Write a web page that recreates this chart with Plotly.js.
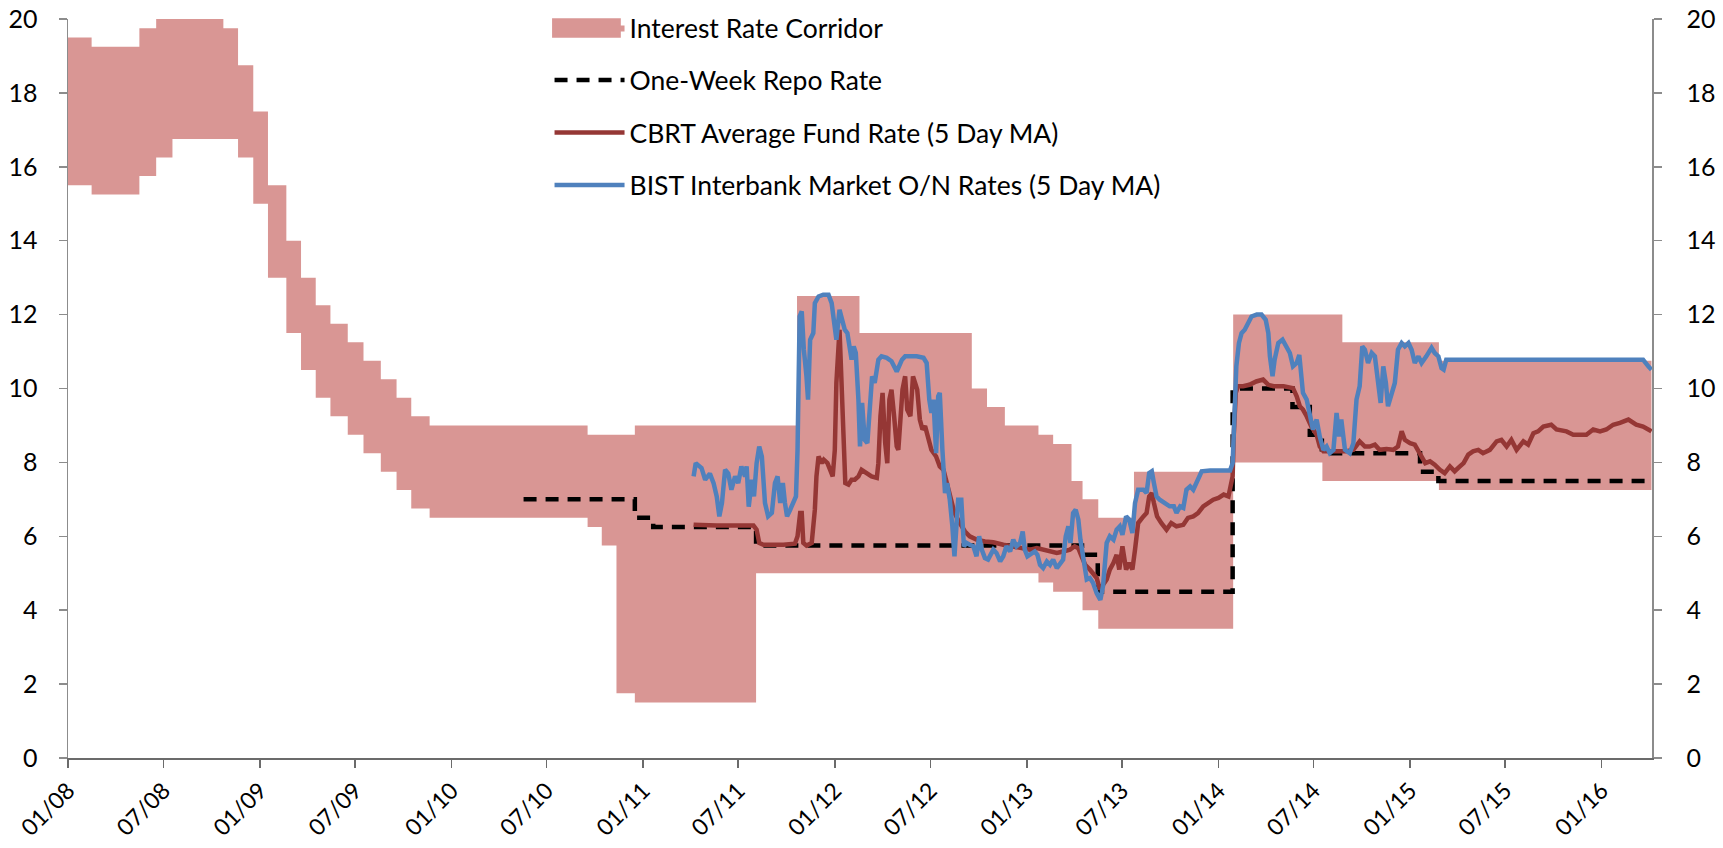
<!DOCTYPE html>
<html>
<head>
<meta charset="utf-8">
<script src="https://cdn.plot.ly/plotly-3.0.1.min.js"></script>
<style>html,body{margin:0;padding:0;background:#fff;}#chart{width:1723px;height:848px;}</style>
</head>
<body>
<div id="chart"></div>
<script>
// Interest rate corridor (step starts)
const corridorDates = ["2008-01-01","2008-02-15","2008-05-16","2008-06-17","2008-07-18","2008-10-23","2008-11-20","2008-12-19","2009-01-16","2009-02-20","2009-03-20","2009-04-17","2009-05-15","2009-06-17","2009-07-17","2009-08-19","2009-09-18","2009-10-16","2009-11-20","2010-09-17","2010-10-14","2010-11-11","2010-12-16","2011-08-04","2011-10-21","2012-02-17","2012-09-18","2012-10-17","2012-11-20","2013-01-23","2013-02-20","2013-03-27","2013-04-17","2013-05-17","2013-07-24","2014-01-29","2014-07-18","2014-08-25","2015-02-25","2016-04-05"];
const corridorLower = [15.5,15.25,15.75,16.25,16.75,16.75,16.25,15.0,13.0,11.5,10.5,9.75,9.25,8.75,8.25,7.75,7.25,6.75,6.5,6.25,5.75,1.75,1.5,5.0,5.0,5.0,5.0,5.0,5.0,4.75,4.5,4.5,4.0,3.5,3.5,8.0,7.5,7.5,7.25,7.25];
const corridorUpper = [19.5,19.25,19.75,20,20,19.75,18.75,17.5,15.5,14.0,13.0,12.25,11.75,11.25,10.75,10.25,9.75,9.25,9.0,8.75,8.75,8.75,9.0,9.0,12.5,11.5,10.0,9.5,9.0,8.75,8.5,7.5,7.0,6.5,7.75,12.0,12.0,11.25,10.75,10.75];

// One-week repo rate (step starts)
const repoDates = ["2010-05-18","2010-12-16","2011-01-20","2011-08-04","2013-04-16","2013-05-16","2014-01-28","2014-05-22","2014-06-24","2014-07-17","2015-01-20","2015-02-24","2016-04-05"];
const repoRates = [7.0,6.5,6.25,5.75,5.5,4.5,10.0,9.5,8.75,8.25,7.75,7.5,7.5];

// CBRT average fund rate (5 day MA)
const cbrtDates = ["2011-04-07","2011-05-21","2011-07-30","2011-08-05","2011-08-10","2011-08-18","2011-09-25","2011-10-17","2011-10-22","2011-10-27","2011-10-30","2011-11-02","2011-11-08","2011-11-18","2011-11-24","2011-11-27","2011-12-01","2011-12-07","2011-12-11","2011-12-18","2011-12-23","2011-12-28","2012-01-01","2012-01-04","2012-01-10","2012-01-14","2012-01-17","2012-01-21","2012-01-27","2012-02-02","2012-02-08","2012-02-15","2012-02-21","2012-03-02","2012-03-11","2012-03-21","2012-03-24","2012-03-28","2012-04-01","2012-04-06","2012-04-10","2012-04-14","2012-04-18","2012-04-23","2012-04-28","2012-05-01","2012-05-04","2012-05-09","2012-05-14","2012-05-18","2012-05-24","2012-05-29","2012-06-02","2012-06-06","2012-06-11","2012-06-16","2012-06-21","2012-06-27","2012-07-03","2012-07-12","2012-07-19","2012-07-26","2012-08-01","2012-08-07","2012-08-16","2012-08-26","2012-09-05","2012-09-14","2012-09-27","2012-10-13","2012-10-29","2012-11-17","2012-12-06","2012-12-19","2013-01-07","2013-01-20","2013-02-01","2013-02-14","2013-02-27","2013-03-11","2013-03-24","2013-04-02","2013-04-09","2013-04-15","2013-04-22","2013-05-01","2013-05-14","2013-05-20","2013-05-25","2013-06-02","2013-06-08","2013-06-15","2013-06-21","2013-06-26","2013-07-02","2013-07-09","2013-07-15","2013-07-21","2013-07-26","2013-08-01","2013-08-11","2013-08-17","2013-08-22","2013-08-27","2013-08-31","2013-09-06","2013-09-14","2013-09-24","2013-10-03","2013-10-13","2013-10-26","2013-11-04","2013-11-14","2013-11-23","2013-12-03","2013-12-12","2013-12-22","2014-01-01","2014-01-11","2014-01-20","2014-01-28","2014-01-30","2014-02-03","2014-02-07","2014-02-17","2014-03-01","2014-03-14","2014-03-27","2014-04-06","2014-04-16","2014-05-05","2014-05-23","2014-05-30","2014-06-05","2014-06-11","2014-06-18","2014-06-27","2014-07-07","2014-07-13","2014-07-20","2014-08-01","2014-08-14","2014-09-02","2014-09-15","2014-09-27","2014-10-07","2014-10-16","2014-10-26","2014-11-04","2014-11-17","2014-11-30","2014-12-09","2014-12-16","2014-12-22","2015-01-01","2015-01-10","2015-01-20","2015-01-30","2015-02-08","2015-02-17","2015-02-27","2015-03-08","2015-03-18","2015-03-27","2015-04-06","2015-04-13","2015-04-22","2015-05-01","2015-05-11","2015-05-20","2015-06-02","2015-06-15","2015-06-24","2015-07-04","2015-07-13","2015-07-23","2015-08-05","2015-08-14","2015-08-24","2015-09-02","2015-09-12","2015-09-27","2015-10-07","2015-10-26","2015-11-08","2015-11-21","2015-12-03","2015-12-16","2015-12-29","2016-01-10","2016-01-23","2016-02-05","2016-02-21","2016-03-07","2016-03-20","2016-04-05"];
const cbrtRates = [6.31,6.29,6.29,6.18,5.82,5.77,5.77,5.80,6.00,6.63,6.63,5.82,5.75,5.82,6.72,7.62,8.16,7.98,8.07,7.98,7.80,7.62,8.34,10.15,11.59,10.15,8.34,7.44,7.40,7.53,7.53,7.62,7.80,7.71,7.62,7.58,7.98,9.25,9.88,8.52,7.98,9.70,9.97,9.25,8.43,8.34,9.07,9.97,10.33,9.43,9.25,10.33,10.15,9.97,9.16,8.89,8.98,8.70,8.34,8.16,7.89,7.80,7.44,7.08,6.63,6.36,6.13,6.00,5.91,5.86,5.84,5.77,5.73,5.68,5.64,5.68,5.64,5.59,5.55,5.59,5.64,5.73,5.68,5.46,5.23,5.10,4.87,4.56,4.65,4.83,5.10,5.28,5.50,5.10,5.73,5.10,5.28,5.10,5.64,6.36,6.54,6.63,7.08,7.17,6.90,6.54,6.36,6.18,6.36,6.27,6.31,6.50,6.54,6.63,6.81,6.90,6.99,7.04,7.13,7.08,7.62,8.70,9.88,10.06,10.06,10.10,10.19,10.24,10.10,10.06,10.06,10.01,9.79,9.52,9.43,9.25,8.97,8.75,8.43,8.30,8.30,8.30,8.30,8.34,8.57,8.43,8.43,8.48,8.34,8.36,8.34,8.43,8.84,8.61,8.52,8.48,8.25,7.98,8.03,7.94,7.80,7.71,7.89,7.76,7.89,7.98,8.21,8.30,8.34,8.25,8.34,8.57,8.61,8.43,8.61,8.34,8.57,8.48,8.79,8.84,8.97,9.02,8.89,8.84,8.75,8.75,8.75,8.89,8.84,8.89,9.02,9.07,9.16,9.02,8.97,8.84];

// BIST interbank market O/N rates (5 day MA)
const bistDates = ["2011-04-07","2011-04-11","2011-04-22","2011-04-29","2011-05-08","2011-05-15","2011-05-21","2011-05-26","2011-05-31","2011-06-06","2011-06-12","2011-06-18","2011-06-25","2011-07-01","2011-07-07","2011-07-14","2011-07-17","2011-07-21","2011-07-27","2011-07-31","2011-08-05","2011-08-10","2011-08-15","2011-08-21","2011-08-27","2011-09-03","2011-09-09","2011-09-14","2011-09-19","2011-09-24","2011-09-28","2011-10-02","2011-10-08","2011-10-14","2011-10-19","2011-10-22","2011-10-26","2011-10-30","2011-11-03","2011-11-08","2011-11-11","2011-11-15","2011-11-21","2011-11-24","2011-12-01","2011-12-10","2011-12-20","2011-12-26","2011-12-30","2012-01-04","2012-01-10","2012-01-14","2012-01-20","2012-01-25","2012-01-30","2012-02-02","2012-02-06","2012-02-10","2012-02-15","2012-02-18","2012-02-22","2012-02-27","2012-03-03","2012-03-08","2012-03-12","2012-03-17","2012-03-24","2012-03-30","2012-04-09","2012-04-18","2012-04-28","2012-05-08","2012-05-14","2012-05-24","2012-06-05","2012-06-18","2012-06-24","2012-06-29","2012-07-03","2012-07-07","2012-07-12","2012-07-16","2012-07-19","2012-07-24","2012-07-29","2012-08-02","2012-08-07","2012-08-12","2012-08-16","2012-08-23","2012-08-29","2012-09-03","2012-09-08","2012-09-14","2012-09-21","2012-09-27","2012-10-02","2012-10-07","2012-10-13","2012-10-19","2012-10-29","2012-11-04","2012-11-11","2012-11-17","2012-11-23","2012-11-30","2012-12-06","2012-12-12","2012-12-19","2012-12-24","2012-12-28","2013-01-02","2013-01-10","2013-01-16","2013-01-21","2013-01-26","2013-02-01","2013-02-08","2013-02-14","2013-02-20","2013-02-27","2013-03-05","2013-03-11","2013-03-16","2013-03-21","2013-03-25","2013-03-30","2013-04-04","2013-04-09","2013-04-13","2013-04-18","2013-04-25","2013-05-01","2013-05-07","2013-05-14","2013-05-21","2013-05-26","2013-06-02","2013-06-08","2013-06-15","2013-06-21","2013-06-27","2013-07-02","2013-07-09","2013-07-15","2013-07-21","2013-07-26","2013-08-01","2013-08-11","2013-08-17","2013-08-22","2013-08-27","2013-08-31","2013-09-05","2013-09-11","2013-09-21","2013-09-30","2013-10-08","2013-10-13","2013-10-20","2013-10-26","2013-11-01","2013-11-08","2013-11-14","2013-11-19","2013-11-23","2013-11-30","2013-12-16","2014-01-04","2014-01-23","2014-01-28","2014-02-01","2014-02-04","2014-02-09","2014-02-14","2014-02-20","2014-02-26","2014-03-05","2014-03-15","2014-03-24","2014-04-01","2014-04-06","2014-04-09","2014-04-14","2014-04-18","2014-04-25","2014-05-03","2014-05-11","2014-05-17","2014-05-23","2014-05-30","2014-06-04","2014-06-11","2014-06-18","2014-06-24","2014-06-30","2014-07-07","2014-07-13","2014-07-20","2014-07-26","2014-08-01","2014-08-08","2014-08-14","2014-08-19","2014-08-23","2014-08-30","2014-09-08","2014-09-15","2014-09-21","2014-09-27","2014-10-02","2014-10-07","2014-10-13","2014-10-20","2014-10-26","2014-11-01","2014-11-06","2014-11-11","2014-11-16","2014-11-20","2014-11-27","2014-12-03","2014-12-09","2014-12-16","2014-12-22","2014-12-29","2015-01-04","2015-01-10","2015-01-17","2015-01-23","2015-02-01","2015-02-11","2015-02-17","2015-02-24","2015-03-02","2015-03-06","2015-03-11","2015-05-01","2015-08-01","2015-11-01","2016-01-01","2016-03-20","2016-03-30","2016-04-05"];
const bistRates = [7.62,7.98,7.85,7.53,7.70,7.44,7.08,6.54,6.90,7.80,7.70,7.26,7.62,7.44,7.89,7.62,7.89,6.80,7.53,7.08,7.98,8.43,8.16,6.90,6.54,6.63,7.44,7.62,6.90,7.44,6.90,6.54,6.72,6.90,7.08,8.34,11.95,12.09,11.05,10.33,9.70,11.32,11.50,12.31,12.49,12.54,12.54,12.31,11.77,11.32,12.13,11.95,11.59,11.50,11.05,10.78,11.14,10.96,9.70,8.43,9.61,8.61,8.52,9.43,10.33,10.15,10.78,10.87,10.83,10.74,10.46,10.78,10.87,10.87,10.87,10.83,10.69,9.70,9.34,9.70,8.25,9.79,9.88,8.34,7.17,7.44,7.00,6.27,5.46,6.99,6.99,5.73,5.82,5.77,5.73,5.46,6.00,5.64,5.41,5.37,5.64,5.55,5.32,5.46,5.73,5.59,5.91,5.73,5.82,6.13,5.64,5.46,5.55,5.59,5.50,5.23,5.14,5.32,5.23,5.37,5.14,5.28,5.37,6.00,6.27,5.82,6.63,6.72,6.45,5.91,5.37,4.83,4.87,4.74,4.46,4.28,4.65,5.82,6.00,5.91,6.18,6.27,6.04,6.54,6.45,6.09,6.90,7.26,7.26,7.17,7.71,7.76,7.44,7.08,6.99,6.90,6.81,6.81,6.63,6.81,6.77,7.26,7.35,7.26,7.44,7.53,7.76,7.78,7.78,7.78,7.98,9.25,10.60,11.23,11.50,11.59,11.73,11.95,12.00,12.00,11.86,11.50,10.87,10.33,10.78,11.23,11.32,11.14,10.96,10.60,10.69,10.91,9.88,9.70,9.25,8.89,9.16,8.70,8.34,8.43,8.25,8.34,9.34,8.70,9.16,8.34,8.25,8.52,9.70,10.06,11.14,11.05,10.69,10.96,10.87,10.15,9.61,10.60,10.15,9.52,9.88,10.15,11.05,11.23,11.14,11.23,11.05,10.69,10.87,10.69,10.87,11.10,10.96,10.87,10.55,10.51,10.78,10.78,10.78,10.78,10.78,10.78,10.60,10.51];

const xStart = "2008-01-01";
const xEnd = "2016-04-06";
const yTicks = [0,2,4,6,8,10,12,14,16,18,20];

const FONT = "Lato, 'Open Sans', sans-serif";
const CORRIDOR_COLOR = "#D99694";

const traces = [
  {x: corridorDates, y: corridorLower, type: "scatter", mode: "lines",
   line: {width: 0, shape: "hv"}, showlegend: false, hoverinfo: "skip",
   legendgroup: "g1"},
  {x: corridorDates, y: corridorUpper, type: "scatter", mode: "lines",
   line: {width: 0, shape: "hv"}, fill: "tonexty", fillcolor: CORRIDOR_COLOR,
   name: "Interest Rate Corridor", legendgroup: "g1"},
  {x: repoDates, y: repoRates, type: "scatter", mode: "lines",
   line: {color: "#000000", width: 4.5, dash: "13px,9px", shape: "hv"},
   name: "One-Week Repo Rate", legendgroup: "g2"},
  {x: cbrtDates, y: cbrtRates, type: "scatter", mode: "lines",
   line: {color: "#953735", width: 4.5},
   name: "CBRT Average Fund Rate (5 Day MA)", legendgroup: "g3"},
  {x: bistDates, y: bistRates, type: "scatter", mode: "lines", yaxis: "y2",
   line: {color: "#4F81BD", width: 4.5},
   name: "BIST Interbank Market O/N Rates (5 Day MA)", legendgroup: "g4"}
];

const yCommon = {
  range: [0, 20], tickvals: yTicks, ticktext: yTicks.map(String),
  showgrid: false, zeroline: false, showline: true,
  linecolor: "#8c8c8c", linewidth: 1.5,
  ticks: "outside", ticklen: 8, tickcolor: "#8c8c8c", tickwidth: 1.5,
  tickfont: {family: FONT, size: 25, color: "#000"}, fixedrange: true
};

const layout = {
  width: 1723, height: 848,
  margin: {l: 68, r: 71, t: 19, b: 90, pad: 0, autoexpand: false},
  paper_bgcolor: "#ffffff", plot_bgcolor: "#ffffff",
  font: {family: FONT, size: 26, color: "#000"},
  showlegend: true,
  legend: {x: 0.304, y: 1.0205, xanchor: "left", yanchor: "top",
           bgcolor: "rgba(0,0,0,0)", font: {family: FONT, size: 26.5, color: "#000"},
           traceorder: "grouped", tracegroupgap: 15, itemwidth: 70},
  // enlarged swatch for the corridor legend entry
  shapes: [{type: "rect", xref: "paper", yref: "paper", layer: "above",
            x0: 0.3056, x1: 0.349, y0: 0.9745, y1: 1.0009,
            fillcolor: CORRIDOR_COLOR, line: {width: 0}}],
  xaxis: {type: "date", range: [xStart, xEnd], tick0: "2008-01-01", dtick: "M6",
          tickformat: "%m/%y", tickangle: -45, showgrid: false, zeroline: false,
          showline: true, linecolor: "#6b6b6b", linewidth: 2,
          ticks: "outside", ticklen: 8, tickcolor: "#6b6b6b", tickwidth: 1.5,
          ticklabelstandoff: 0, automargin: false,
          tickfont: {family: FONT, size: 23, color: "#000"}, fixedrange: true},
  yaxis: Object.assign({}, yCommon, {side: "left", ticklabelstandoff: 16, automargin: false}),
  yaxis2: Object.assign({}, yCommon, {side: "right", overlaying: "y", ticklabelstandoff: 20, automargin: false})
};

Plotly.newPlot("chart", traces, layout, {displayModeBar: false, staticPlot: true});
</script>
</body>
</html>
